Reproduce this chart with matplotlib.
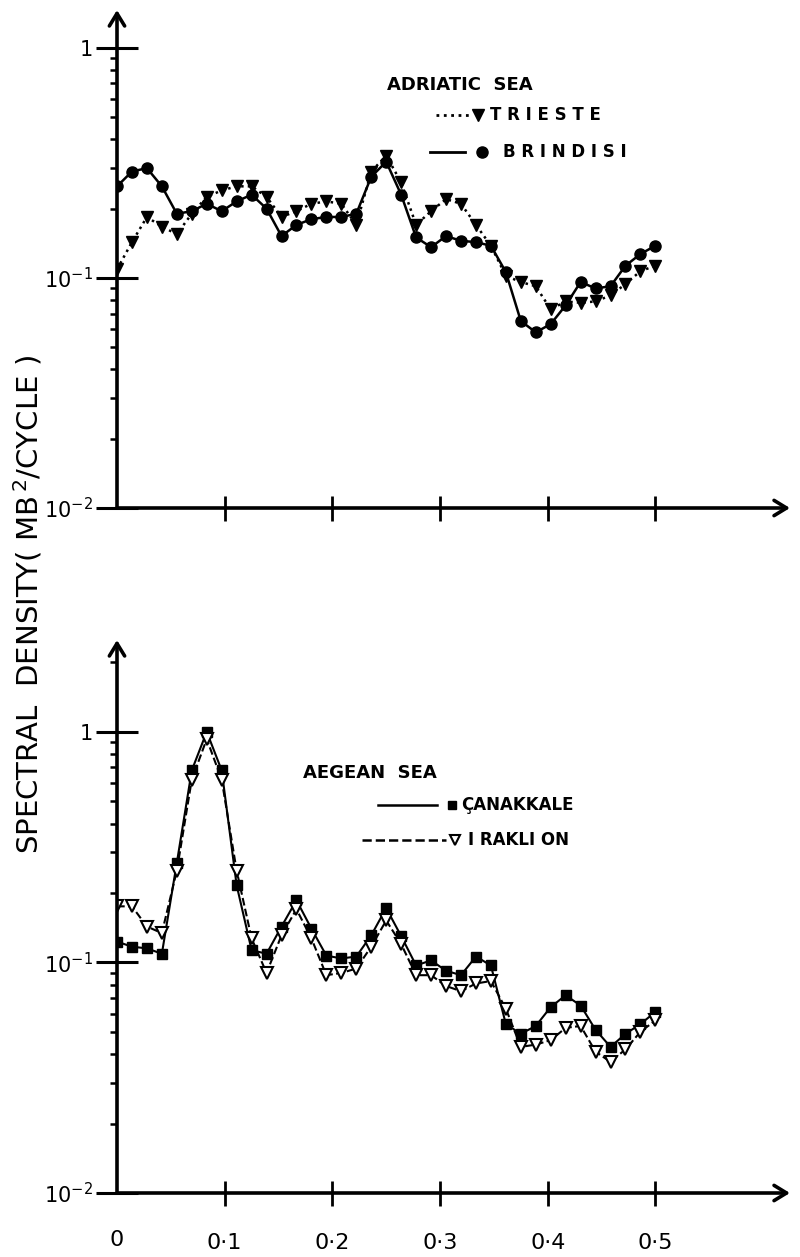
import numpy as np
import matplotlib
matplotlib.use("Agg")
import matplotlib.pyplot as plt
from matplotlib.lines import Line2D

plt.rcParams['font.family'] = ['DejaVu Sans']
plt.rcParams['mathtext.fontset'] = 'dejavusans'

# frequency (cycles/hour), 37 estimates at 1/72 spacing
freq = np.arange(37) / 72.0

# Adriatic Sea
trieste = [0.109, 0.143, 0.184, 0.167, 0.155, 0.19, 0.225, 0.24, 0.25, 0.25,
           0.225, 0.184, 0.195, 0.21, 0.215, 0.21, 0.17, 0.29, 0.34, 0.26,
           0.17, 0.195, 0.22, 0.21, 0.17, 0.138, 0.102, 0.096, 0.092, 0.073,
           0.079, 0.078, 0.079, 0.084, 0.094, 0.107, 0.113]
brindisi = [0.25, 0.29, 0.30, 0.25, 0.19, 0.195, 0.21, 0.195, 0.215, 0.23,
            0.20, 0.152, 0.17, 0.18, 0.184, 0.184, 0.19, 0.275, 0.32, 0.23,
            0.15, 0.136, 0.152, 0.145, 0.143, 0.138, 0.106, 0.065, 0.058, 0.063,
            0.076, 0.096, 0.09, 0.092, 0.113, 0.127, 0.138]

# Aegean Sea
canakkale = [0.123, 0.117, 0.115, 0.109, 0.27, 0.68, 1.0, 0.68, 0.216, 0.113,
             0.109, 0.143, 0.186, 0.14, 0.107, 0.104, 0.106, 0.131, 0.172, 0.13,
             0.097, 0.102, 0.092, 0.088, 0.106, 0.097, 0.054, 0.049, 0.053, 0.064,
             0.072, 0.065, 0.051, 0.043, 0.049, 0.054, 0.061]
iraklion = [0.175, 0.175, 0.143, 0.134, 0.25, 0.62, 0.93, 0.62, 0.25, 0.127,
            0.09, 0.131, 0.17, 0.127, 0.088, 0.09, 0.094, 0.117, 0.152, 0.12,
            0.088, 0.088, 0.079, 0.075, 0.081, 0.083, 0.063, 0.043, 0.044, 0.046,
            0.052, 0.053, 0.041, 0.037, 0.042, 0.050, 0.056]

xticks = [0.1, 0.2, 0.3, 0.4, 0.5]
xticklabels = ['0·1', '0·2', '0·3', '0·4', '0·5']

fig = plt.figure(figsize=(8, 12.57), dpi=100)
ax1 = fig.add_axes([117 / 800, 1 - 508 / 1257, 673 / 800, 498 / 1257])
ax2 = fig.add_axes([117 / 800, 1 - 1193 / 1257, 673 / 800, 553 / 1257])


def style_axes(ax, ymax, show_xlabels):
    ax.set_yscale('log')
    ax.set_xlim(0, 0.625)
    ax.set_ylim(0.01, ymax)
    for s in ax.spines.values():
        s.set_visible(False)
    # axis lines with open arrow heads
    ax.annotate('', xy=(1, 0), xytext=(0, 0), xycoords='axes fraction',
                arrowprops=dict(arrowstyle='->,head_length=0.9,head_width=0.55',
                                lw=2.6, color='black', shrinkA=0, shrinkB=0))
    ax.annotate('', xy=(0, 1), xytext=(0, 0), xycoords='axes fraction',
                arrowprops=dict(arrowstyle='->,head_length=0.9,head_width=0.55',
                                lw=2.6, color='black', shrinkA=0, shrinkB=0))
    ax.set_xticks(xticks)
    if show_xlabels:
        ax.set_xticklabels(xticklabels, fontsize=16)
    else:
        ax.set_xticklabels([])
    ax.tick_params(axis='x', direction='inout', length=18, width=2, pad=20)
    ax.set_yticks([0.01, 0.1, 1])
    ax.set_yticklabels(['$10^{-2}$', '$10^{-1}$', '1'], fontsize=15)
    ax.tick_params(axis='y', which='major', direction='inout', length=30,
                   width=2.2, pad=2)
    ax.tick_params(axis='y', which='minor', direction='out', length=5, width=1.8)
    ax.yaxis.set_minor_formatter(plt.NullFormatter())


style_axes(ax1, 1.46, False)
style_axes(ax2, 2.5, True)

# top panel
ax1.plot(freq, trieste, linestyle=':', color='black', lw=1.8,
         marker='v', ms=8, mfc='black', mec='black')
ax1.plot(freq, brindisi, linestyle='-', color='black', lw=1.8,
         marker='o', ms=8, mfc='black', mec='black')

# bottom panel
ax2.plot(freq, canakkale, linestyle='-', color='black', lw=1.5,
         marker='s', ms=7, mfc='black', mec='black')
ax2.plot(freq, iraklion, linestyle='--', color='black', lw=1.5,
         marker='v', ms=8, mfc='white', mec='black', mew=1.5)

# hand-drawn style legends
tr = ax1.transAxes
ax1.text(0.401, 0.849, 'ADRIATIC  SEA', transform=tr, fontsize=13,
         va='center', ha='left', fontweight='bold')
ax1.add_line(Line2D([0.474, 0.525], [0.789, 0.789], transform=tr, color='black',
                    linestyle=':', lw=2))
ax1.add_line(Line2D([0.536], [0.789], transform=tr, color='black', marker='v',
                    ms=8, linestyle='none'))
ax1.text(0.554, 0.789, 'T R I E S T E', transform=tr, fontsize=12,
         va='center', ha='left', fontweight='bold')
ax1.add_line(Line2D([0.465, 0.517], [0.715, 0.715], transform=tr, color='black',
                    linestyle='-', lw=2))
ax1.add_line(Line2D([0.542], [0.715], transform=tr, color='black', marker='o',
                    ms=8, linestyle='none'))
ax1.text(0.574, 0.715, 'B R I N D I S I', transform=tr, fontsize=12,
         va='center', ha='left', fontweight='bold')

tr = ax2.transAxes
ax2.text(0.276, 0.759, 'AEGEAN  SEA', transform=tr, fontsize=13,
         va='center', ha='left', fontweight='bold')
ax2.add_line(Line2D([0.388, 0.476], [0.702, 0.702], transform=tr, color='black',
                    linestyle='-', lw=1.8))
ax2.add_line(Line2D([0.498], [0.702], transform=tr, color='black', marker='s',
                    ms=6, linestyle='none'))
ax2.text(0.512, 0.702, 'ÇANAKKALE', transform=tr, fontsize=12,
         va='center', ha='left', fontweight='bold')
ax2.add_line(Line2D([0.364, 0.489], [0.638, 0.638], transform=tr, color='black',
                    linestyle='--', lw=1.8))
ax2.add_line(Line2D([0.502], [0.638], transform=tr, color='black', marker='v',
                    ms=7, mfc='white', mew=1.5, linestyle='none'))
ax2.text(0.522, 0.638, 'I RAKLI ON', transform=tr, fontsize=12,
         va='center', ha='left', fontweight='bold')

fig.text(28 / 800, 1 - 605 / 1257, 'SPECTRAL  DENSITY( MB$^{\\,2}$/CYCLE )',
         rotation=90, fontsize=21, va='center', ha='center')
# x label "0" at origin
ax2.text(0, -0.085, '0', transform=ax2.get_xaxis_transform(), fontsize=16,
         ha='center', va='center')

fig.savefig('out.png', dpi=100)
